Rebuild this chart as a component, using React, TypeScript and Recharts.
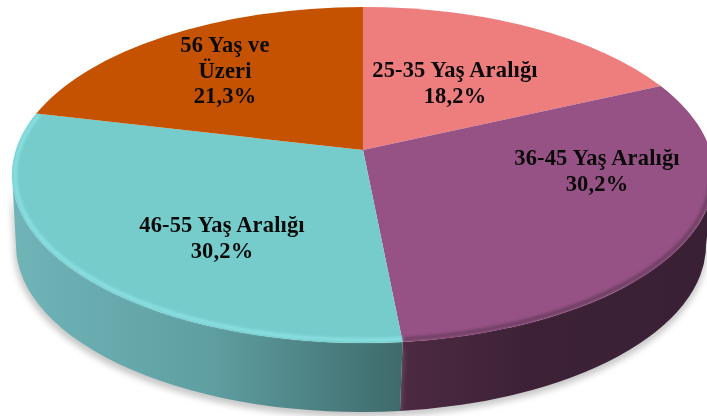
import React from "react";
import { PieChart, Pie, Cell } from "recharts";

const categories = [
  ["25-35 Yaş Aralığı"],
  ["36-45 Yaş Aralığı"],
  ["46-55 Yaş Aralığı"],
  ["56 Yaş ve", "Üzeri"],
];
const shares = [18.2, 30.2, 30.2, 21.3];
const topColors = ["#ee7d7d", "#965284", "#76cbcb", "#c55200"];
const rimColors = ["none", "#6b3c62", "#8ce2e4", "none"];
const sideFills = ["none", "url(#sidePurple)", "url(#sideTeal)", "none"];
const labelCenters = [
  [455, 71],
  [597, 159],
  [222, 226],
  [225, 46],
];

const data = shares.map((value, i) => ({
  name: categories[i].join(" "),
  value,
  lines: categories[i],
  i,
}));

const RY_RATIO = 168 / 351;
const APEX_K = 25 / 168;
const POINCARE = APEX_K / (1 + Math.sqrt(1 - APEX_K * APEX_K));
const BOTTOM = { dx: -2, dy: 70, rxd: -6, ryd: -1 };
const rad = Math.PI / 180;

// true pie angle (clockwise from the top) -> angle on the foreshortened rim
const warp = (theta: number) => {
  const a = theta * rad;
  return theta - (2 * Math.atan((POINCARE * Math.sin(a)) / (1 + POINCARE * Math.cos(a)))) / rad;
};
const pt = (cx: number, cy: number, rx: number, ry: number, t: number) => [
  cx + rx * Math.sin(t * rad),
  cy - ry * Math.cos(t * rad),
];

const SliceShape = (props: any) => {
  const { cx, cy, outerRadius, startAngle, endAngle, payload } = props;
  const rx = outerRadius;
  const ry = outerRadius * RY_RATIO;
  const i = payload?.i ?? props.i ?? props.index ?? 0;
  const t1 = warp(90 - startAngle);
  const t2 = warp(90 - endAngle);
  const apexY = cy - ry * APEX_K;
  const [x1, y1] = pt(cx, cy, rx, ry, t1);
  const [x2, y2] = pt(cx, cy, rx, ry, t2);
  const large = t2 - t1 > 180 ? 1 : 0;
  const top = `M${cx},${apexY}L${x1},${y1}A${rx},${ry} 0 ${large} 1 ${x2},${y2}Z`;

  const a = Math.max(t1, 90);
  const b = Math.min(t2, 270);
  let side = null;
  let rim = null;
  if (b > a && sideFills[i] !== "none") {
    const [ax, ay] = pt(cx, cy, rx, ry, a);
    const [bx, by] = pt(cx, cy, rx, ry, b);
    const brx = rx + BOTTOM.rxd;
    const bry = ry + BOTTOM.ryd;
    const bcx = cx + BOTTOM.dx;
    const bcy = cy + BOTTOM.dy;
    const [cx1, cy1] = pt(bcx, bcy, brx, bry, a);
    const [cx2, cy2] = pt(bcx, bcy, brx, bry, b);
    side = `M${ax},${ay}A${rx},${ry} 0 0 1 ${bx},${by}L${cx2},${cy2}A${brx},${bry} 0 0 0 ${cx1},${cy1}Z`;
    const irx = rx - 3;
    const iry = ry - 3;
    const [ix1, iy1] = pt(cx, cy, irx, iry, a);
    const [ix2, iy2] = pt(cx, cy, irx, iry, t2);
    rim = `M${ix1},${iy1}A${irx},${iry} 0 ${t2 - a > 180 ? 1 : 0} 1 ${ix2},${iy2}`;
  }
  const shadowColor = "#9a9a9a";
  return (
    <g>
      {side && (
        <path
          d={side}
          fill={shadowColor}
          opacity={0.55}
          transform="translate(-2 5) scale(1.004 1)"
          filter="url(#shadow)"
        />
      )}
      {side && <path d={side} fill={sideFills[i]} />}
      <path d={top} fill={topColors[i]} />
      {rim && (
        <path d={rim} fill="none" stroke={rimColors[i]} strokeWidth={3.5} filter="url(#soft)" />
      )}
    </g>
  );
};

const renderLabel = (props: any) => {
  const i = props.index ?? 0;
  const lines = [...categories[i], shares[i].toFixed(1).replace(".", ",") + "%"];
  const [x, y] = labelCenters[i];
  return (
    <text
      key={i}
      x={x}
      y={y}
      textAnchor="middle"
      fontFamily="'Liberation Serif', serif"
      fontWeight="bold"
      fontSize={22.5}
      letterSpacing={0.15}
      fill="#0a0a0a"
    >
      {lines.map((l, k) => (
        <tspan key={k} x={x} dy={k === 0 ? 6 : 25.5}>
          {l}
        </tspan>
      ))}
    </text>
  );
};

export default function App() {
  return (
    <div style={{ position: "absolute", left: 0, top: 0, width: 707, height: 416, filter: "blur(0.5px)" }}>
      <PieChart width={707} height={416} margin={{ top: 0, right: 0, bottom: 0, left: 0 }}>
        <defs>
          <linearGradient id="sideTeal" gradientUnits="userSpaceOnUse" x1="15" y1="0" x2="403" y2="0">
            <stop offset="0" stopColor="#70b4b7" />
            <stop offset="0.5" stopColor="#5f9fa2" />
            <stop offset="1" stopColor="#3e6a6b" />
          </linearGradient>
          <linearGradient id="sidePurple" gradientUnits="userSpaceOnUse" x1="403" y1="0" x2="707" y2="0">
            <stop offset="0" stopColor="#4c2a42" />
            <stop offset="0.4" stopColor="#3d2236" />
            <stop offset="1" stopColor="#3a2035" />
          </linearGradient>
          <filter id="soft" filterUnits="userSpaceOnUse" x="-20" y="-20" width="760" height="460">
            <feGaussianBlur stdDeviation="1.5" />
          </filter>
          <filter id="shadow" filterUnits="userSpaceOnUse" x="-20" y="-20" width="760" height="460">
            <feGaussianBlur stdDeviation="3" />
          </filter>
        </defs>
        <Pie
          data={data}
          dataKey="value"
          nameKey="name"
          cx={363}
          cy={175}
          innerRadius={0}
          outerRadius={351}
          startAngle={90}
          endAngle={-270}
          stroke="none"
          isAnimationActive={false}
          shape={SliceShape}
          label={renderLabel}
          labelLine={false}
        >
          {data.map((d) => (
            <Cell key={d.name} fill={topColors[d.i]} />
          ))}
        </Pie>
      </PieChart>
    </div>
  );
}
